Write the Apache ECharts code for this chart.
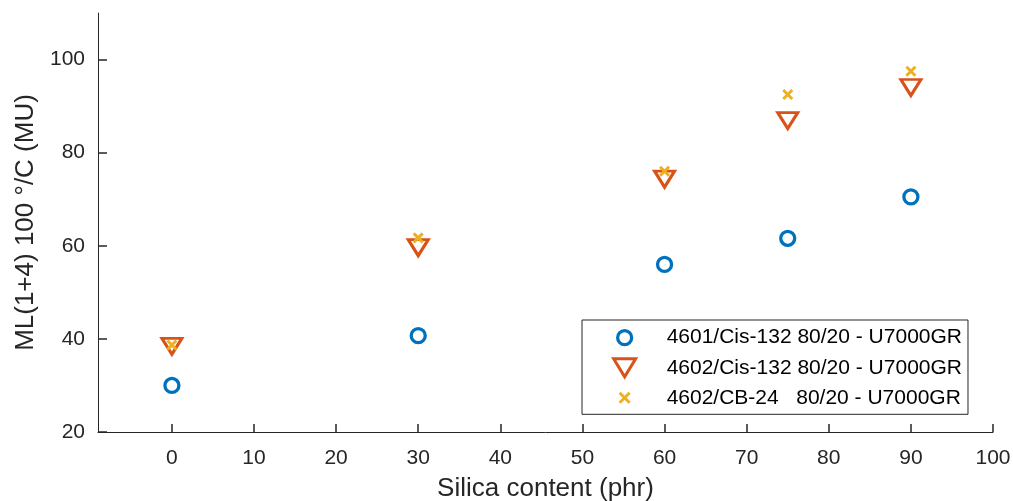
<!DOCTYPE html>
<html>
<head>
<meta charset="utf-8">
<script src="https://cdn.jsdelivr.net/npm/echarts@6/dist/echarts.min.js"></script>
<style>
  html, body { margin: 0; padding: 0; background: #ffffff; }
  #chart { width: 1013px; height: 501px; }
</style>
</head>
<body>
<div id="chart"></div>
<script>
// Silica loading (phr)
const silica = [0, 30, 60, 75, 90];

// Mooney viscosity ML(1+4) at 100 °C for each compound
const mooney4601Cis = [30.0, 40.7, 56.0, 61.6, 70.5];
const mooney4602Cis = [38.4, 59.6, 74.3, 86.9, 94.0];
const mooney4602CB  = [38.7, 61.7, 76.0, 92.5, 97.5];

const seriesNames = [
  '4601/Cis-132 80/20 - U7000GR',
  '4602/Cis-132 80/20 - U7000GR',
  '4602/CB-24   80/20 - U7000GR'
];

const xTicks = [0, 10, 20, 30, 40, 50, 60, 70, 80, 90, 100];
const yTicks = [20, 40, 60, 80, 100];

const FONT = "'Liberation Sans', Arial, Helvetica, sans-serif";
const INK = '#262626';
const BLUE = '#0072BD', ORANGE = '#D95319', YELLOW = '#EDB120';

// marker shapes
const TRI_DOWN = 'path://M0,0 L22,0 L11,18 Z';
const CROSS = 'path://M0,0 L10,10 M10,0 L0,10';
// legend icons share a 22x18 box so each keeps its own size
const LEG_CIRCLE = 'path://M0,0 M22,18 M4,9 A7,7 0 1,1 18,9 A7,7 0 1,1 4,9 Z';
const LEG_TRI = 'path://M0,0 L22,0 L11,18 Z';
const LEG_CROSS = 'path://M0,0 M22,18 M6,4 L16,14 M16,4 L6,14';

function pairs(xs, ys) { return xs.map((x, i) => [x, ys[i]]); }

const chart = echarts.init(document.getElementById('chart'), null, { renderer: 'canvas' });

chart.setOption({
  backgroundColor: '#ffffff',
  animation: false,
  textStyle: { fontFamily: FONT },
  grid: { left: 98, right: 20, top: 13, bottom: 69, containLabel: false, outerBoundsMode: 'none' },
  xAxis: {
    type: 'value', min: -9, max: 100,
    name: 'Silica content (phr)', nameLocation: 'middle', nameGap: 44,
    nameTextStyle: { fontSize: 26, color: INK, fontFamily: FONT },
    axisLine: { show: true, onZero: false, lineStyle: { color: INK, width: 1 } },
    axisTick: { show: true, inside: true, length: 8, customValues: xTicks, lineStyle: { color: INK, width: 1.5 } },
    axisLabel: { customValues: xTicks, fontSize: 21, color: INK, margin: 16, fontFamily: FONT },
    splitLine: { show: false }
  },
  yAxis: {
    type: 'value', min: 20, max: 110,
    name: 'ML(1+4) 100 °/C (MU)', nameLocation: 'middle', nameGap: 58,
    nameTextStyle: { fontSize: 26, color: INK, fontFamily: FONT },
    axisLine: { show: true, onZero: false, lineStyle: { color: INK, width: 1 } },
    axisTick: { show: true, inside: true, length: 9, customValues: yTicks, lineStyle: { color: INK, width: 1.5 } },
    axisLabel: { customValues: yTicks, fontSize: 21, color: INK, margin: 13, fontFamily: FONT },
    splitLine: { show: false }
  },
  legend: {
    orient: 'vertical', left: 582, top: 320,
    backgroundColor: '#ffffff', borderColor: '#262626', borderWidth: 1, borderRadius: 0,
    padding: [7, 6, 6, 30],
    itemGap: 9, itemWidth: 22, itemHeight: 18,
    textStyle: { fontSize: 21, color: '#000000', fontFamily: FONT, padding: [0, 0, 0, 26] },
    data: [
      { name: seriesNames[0], icon: LEG_CIRCLE, itemStyle: { color: 'transparent', borderColor: BLUE, borderWidth: 3.3 } },
      { name: seriesNames[1], icon: LEG_TRI, itemStyle: { color: 'transparent', borderColor: ORANGE, borderWidth: 3 } },
      { name: seriesNames[2], icon: LEG_CROSS, itemStyle: { color: 'transparent', borderColor: YELLOW, borderWidth: 3 } }
    ]
  },
  series: [
    {
      name: seriesNames[0], type: 'scatter', symbol: 'circle', symbolSize: 14,
      itemStyle: { color: 'transparent', borderColor: BLUE, borderWidth: 3.3, opacity: 1 },
      data: pairs(silica, mooney4601Cis)
    },
    {
      name: seriesNames[1], type: 'scatter', symbol: TRI_DOWN, symbolSize: [20, 16],
      itemStyle: { color: 'transparent', borderColor: ORANGE, borderWidth: 3, opacity: 1 },
      data: pairs(silica, mooney4602Cis)
    },
    {
      name: seriesNames[2], type: 'scatter', symbol: CROSS, symbolSize: 9,
      itemStyle: { color: 'transparent', borderColor: YELLOW, borderWidth: 3, opacity: 1 },
      data: pairs(silica, mooney4602CB)
    }
  ]
});
</script>
</body>
</html>
